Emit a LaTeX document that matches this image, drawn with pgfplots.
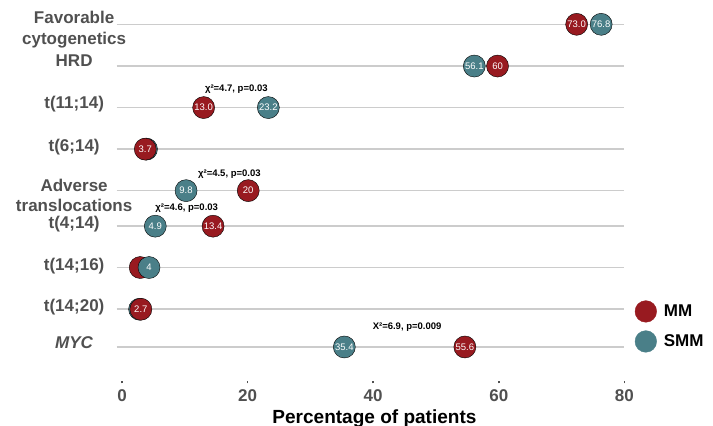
\documentclass[border=0pt]{standalone}
\usepackage{pgfplots}
\pgfplotsset{compat=1.18}
\usepackage{fontspec}
\setmainfont{Liberation Sans}
\definecolor{mmred}{RGB}{152,26,32}
\definecolor{smmteal}{RGB}{74,127,136}
\definecolor{gridgray}{RGB}{204,204,204}
\definecolor{labgray}{RGB}{80,80,80}

\begin{document}
\begin{tikzpicture}
\begin{axis}[
  scale only axis,
  width=507.3bp, height=371bp,
  xmin=-0.85, xmax=80, ymin=-381, ymax=-10,
  axis line style={draw=none},
  clip=false,
  xtick={0,20,40,60,80},
  xtick pos=bottom, tick align=outside,
  major tick length=2bp,
  x tick style={labgray, line width=1.5bp},
  ytick={-342.7,-307,-266,-224.3,-195.5,-146.7,-104,-61,-29.5},
  yticklabels={\textit{MYC},t(14;20),t(14;16),t(4;14),{Adverse\\translocations},t(6;14),t(11;14),HRD,{Favorable\\cytogenetics}},
  y tick style={draw=none},
  yticklabel style={anchor=center, align=center, xshift=-40.5bp,
    font=\fontsize{17bp}{20.5bp}\selectfont\bfseries, text=labgray},
  extra y ticks={-346.7,-309,-267.3,-226,-190.5,-149,-107.5,-66,-24.3},
  extra y tick labels={},
  extra y tick style={grid=major, major grid style={gridgray, line width=1.6bp}, tick style={draw=none}},
  xticklabel style={font=\fontsize{17bp}{20bp}\selectfont\bfseries, text=labgray, yshift=-3bp},
  /pgf/number format/assume math mode=true,
  xlabel={Percentage of patients},
  xlabel style={at={(axis cs:40.2,-423.6)}, anchor=base, font=\fontsize{19bp}{22bp}\selectfont\bfseries},
  legend style={at={(axis cs:81.63,-300)}, anchor=north west, draw=none, fill=none,
    inner sep=0pt, row sep=8bp, column sep=5bp, font=\fontsize{17bp}{20bp}\selectfont\bfseries},
  legend cell align=left,
]
% legend entries
\addlegendimage{legend image code/.code={\fill[mmred] (10.8bp,0bp) circle (10.8bp);}}
\addlegendentry{MM}
\addlegendimage{legend image code/.code={\fill[smmteal] (10.8bp,0bp) circle (10.8bp);}}
\addlegendentry{SMM}

% hidden points underneath
\addplot[forget plot, only marks, mark=*, mark size=11bp, mark options={draw=none, fill=smmteal}]
  coordinates {(3.9,-149) (2.8,-309)};
\addplot[forget plot, only marks, mark=*, mark size=11bp, mark options={draw=none, fill=mmred}]
  coordinates {(2.9,-267.3)};

% SMM
\addplot[forget plot, only marks, mark=*, mark size=11bp, mark options={draw=none, fill=smmteal},
  nodes near coords, point meta=explicit symbolic,
  every node near coord/.append style={anchor=center, text=white, font=\fontsize{9.5bp}{10bp}\selectfont}]
  coordinates {
    (76.3,-24.3) [76.8]
    (56.1,-66) [56.1]
    (23.3,-107.5) [23.2]
    (10.2,-190.5) [9.8]
    (5.3,-226) [4.9]
    (4.3,-267.3) [4]
    (35.4,-346.7) [35.4]
  };

% MM
\addplot[forget plot, only marks, mark=*, mark size=11bp, mark options={draw=none, fill=mmred},
  nodes near coords, point meta=explicit symbolic,
  every node near coord/.append style={anchor=center, text=white, font=\fontsize{9.5bp}{10bp}\selectfont}]
  coordinates {
    (72.4,-24.3) [73.0]
    (59.8,-66) [60]
    (13.0,-107.5) [13.0]
    (3.7,-149) [3.7]
    (20.1,-190.5) [20]
    (14.5,-226) [13.4]
    (3.0,-309) [2.7]
    (54.6,-346.7) [55.6]
  };

% test statistics
\node[font=\fontsize{9.5bp}{10bp}\selectfont\bfseries] at (axis cs:18.2,-89) {χ²=4.7, p=0.03};
\node[font=\fontsize{9.5bp}{10bp}\selectfont\bfseries] at (axis cs:17.1,-174.3) {χ²=4.5, p=0.03};
\node[font=\fontsize{9.5bp}{10bp}\selectfont\bfseries] at (axis cs:10.3,-208.3) {χ²=4.6, p=0.03};
\node[font=\fontsize{9.5bp}{10bp}\selectfont\bfseries] at (axis cs:45.4,-326.7) {X²=6.9, p=0.009};

\coordinate (BBa) at (axis cs:-19.43,0);
\coordinate (BBb) at (axis cs:94.11,-425);
\end{axis}
\pgfresetboundingbox
\path[use as bounding box] (BBa) rectangle (BBb);
\end{tikzpicture}
\end{document}
